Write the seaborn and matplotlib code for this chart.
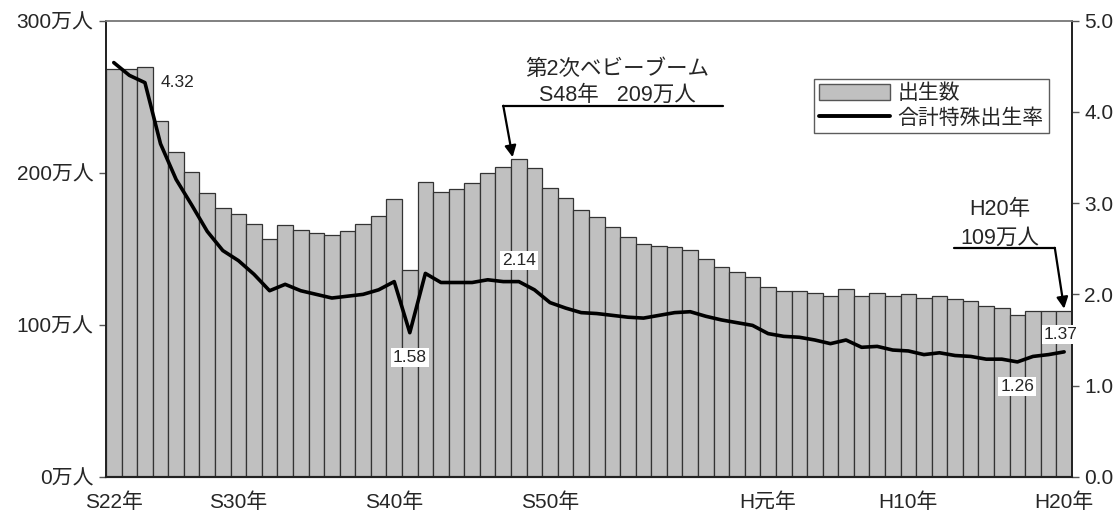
import numpy as np
import pandas as pd
import matplotlib
matplotlib.use("Agg")
import matplotlib.pyplot as plt
import seaborn as sns
from matplotlib.patches import Patch
from matplotlib.lines import Line2D

# Years S22 (1947) .. H20 (2008)
years = list(range(1947, 2009))

# Live births, in units of 10,000 persons (万人)
births = [267.9, 268.2, 269.7, 233.8, 213.8, 200.5, 186.8, 177.0, 173.1, 166.5,
          156.7, 165.3, 162.6, 160.6, 158.9, 161.9, 166.0, 171.7, 182.4, 136.1,
          193.6, 187.2, 189.0, 193.4, 200.1, 203.9, 209.2, 203.0, 190.1, 183.3,
          175.5, 170.9, 164.3, 157.7, 152.9, 151.5, 150.9, 149.0, 143.2, 138.3,
          134.7, 131.4, 124.7, 122.2, 122.3, 120.9, 118.8, 123.8, 118.7, 120.7,
          119.2, 120.3, 117.8, 119.1, 117.1, 115.4, 112.4, 111.1, 106.3, 109.3,
          109.0, 109.1]

# Total fertility rate
tfr = [4.54, 4.40, 4.32, 3.65, 3.26, 2.98, 2.69, 2.48, 2.37, 2.22,
       2.04, 2.11, 2.04, 2.00, 1.96, 1.98, 2.00, 2.05, 2.14, 1.58,
       2.23, 2.13, 2.13, 2.13, 2.16, 2.14, 2.14, 2.05, 1.91, 1.85,
       1.80, 1.79, 1.77, 1.75, 1.74, 1.77, 1.80, 1.81, 1.76, 1.72,
       1.69, 1.66, 1.57, 1.54, 1.53, 1.50, 1.46, 1.50, 1.42, 1.43,
       1.39, 1.38, 1.34, 1.36, 1.33, 1.32, 1.29, 1.29, 1.26, 1.32,
       1.34, 1.37]

tick_years = [1947, 1955, 1965, 1975, 1989, 1998, 2008]
tick_labels = ["S22年", "S30年", "S40年", "S50年", "H元年", "H10年", "H20年"]

left_ticks = [0, 100, 200, 300]
left_labels = ["0万人", "100万人", "200万人", "300万人"]
right_ticks = [0.0, 1.0, 2.0, 3.0, 4.0, 5.0]

# TFR values called out on the line
tfr_callouts = {1949: "4.32", 1966: "1.58", 1973: "2.14", 2005: "1.26", 2008: "1.37"}

sns.set_theme(style="white")
plt.rcParams["font.family"] = ["Liberation Sans", "Noto Sans CJK JP", "DejaVu Sans"]

df = pd.DataFrame({"year": years, "births": births, "tfr": tfr})
df["pos"] = np.arange(len(df))
pos_of = dict(zip(df["year"], df["pos"]))

fig = plt.figure(figsize=(11.18, 5.15), dpi=100)
ax = fig.add_axes([0.0948, 0.074, 0.864, 0.886])

sns.barplot(data=df, x="year", y="births", order=years, color="#C0C0C0",
            width=1.0, edgecolor="#333333", linewidth=0.9, saturation=1,
            ax=ax)
for p in ax.patches:
    p.set_facecolor("#C0C0C0")

TICK_FS = 15
ax.set_xlim(-0.5, len(years) - 0.5)
ax.set_ylim(0, 300)
ax.set_yticks(left_ticks)
ax.set_yticklabels(left_labels, fontsize=TICK_FS)
ax.set_xticks([pos_of[y] for y in tick_years])
ax.set_xticklabels(tick_labels, fontsize=TICK_FS)
ax.set_xlabel("")
ax.set_ylabel("")
ax.tick_params(axis="x", length=0, pad=11)
ax.tick_params(axis="y", length=5, width=1, color="#555555", direction="out", left=True, pad=4)

ax2 = ax.twinx()
sns.lineplot(data=df, x="pos", y="tfr", color="black", linewidth=2.6, ax=ax2,
             legend=False)
ax2.set_ylim(0, 5.0)
ax2.set_yticks(right_ticks)
ax2.set_yticklabels([f"{v:.1f}" for v in right_ticks], fontsize=TICK_FS)
ax2.set_ylabel("")
ax2.tick_params(axis="y", length=5, width=1, color="#555555", direction="out", right=True, pad=4)
ax2.set_xlim(-0.5, len(years) - 0.5)

for a in (ax, ax2):
    a.spines["top"].set_color("#808080")
    a.spines["top"].set_linewidth(1.2)
    a.spines["left"].set_color("#222222")
    a.spines["right"].set_color("#222222")
    a.spines["bottom"].set_color("#222222")
    a.spines["bottom"].set_linewidth(1.5)

# value callouts on the TFR line
offsets = {1949: (2.1, 0.0), 1966: (0.0, -0.27), 1973: (0.0, 0.23),
           2005: (0.0, -0.27), 2008: (-0.2, 0.19)}
for yr, txt in tfr_callouts.items():
    dx, dy = offsets[yr]
    val = df.loc[df["year"] == yr, "tfr"].iloc[0]
    ax2.text(pos_of[yr] + dx, val + dy, txt, ha="center", va="center",
             fontsize=12.5,
             bbox=dict(boxstyle="square,pad=0.12", facecolor="white", edgecolor="none"))

ANN_FS = 15.5
# second baby boom annotation
peak_year = 1973
peak = df.loc[df["year"] == peak_year, "births"].iloc[0]
ax.text(pos_of[peak_year] + 6.3, 268, "第2次ベビーブーム", ha="center", va="center",
        fontsize=ANN_FS)
ax.text(pos_of[peak_year] + 6.3, 251, f"S48年   {peak:.0f}万人", ha="center",
        va="center", fontsize=ANN_FS)
ax.plot([pos_of[peak_year] - 1.0, pos_of[peak_year] + 13.1], [244, 244],
        color="black", linewidth=1.6)
ax.annotate("", xy=(pos_of[peak_year] - 0.4, peak + 1),
            xytext=(pos_of[peak_year] - 1.0, 244),
            arrowprops=dict(arrowstyle="-|>", color="black", lw=1.6,
                            mutation_scale=17, shrinkA=0, shrinkB=0))

# latest year annotation
last_year = 2008
last = df.loc[df["year"] == last_year, "births"].iloc[0]
ax.text(pos_of[last_year] - 4.1, 176, "H20年", ha="center", va="center", fontsize=ANN_FS)
ax.text(pos_of[last_year] - 4.1, 157, f"{last:.0f}万人", ha="center", va="center",
        fontsize=ANN_FS)
ax.plot([pos_of[last_year] - 7.1, pos_of[last_year] - 0.6], [150.6, 150.6],
        color="black", linewidth=1.6)
ax.annotate("", xy=(pos_of[last_year], last + 1.5),
            xytext=(pos_of[last_year] - 0.6, 150.6),
            arrowprops=dict(arrowstyle="-|>", color="black", lw=1.6,
                            mutation_scale=17, shrinkA=0, shrinkB=0))

# legend
handles = [Patch(facecolor="#C0C0C0", edgecolor="#555555", label="出生数"),
           Line2D([0], [0], color="black", linewidth=2.8, label="合計特殊出生率")]
leg = ax2.legend(handles=handles, loc="upper right", bbox_to_anchor=(0.976, 0.873),
                 fontsize=15, frameon=True, fancybox=False, handlelength=3.4,
                 handleheight=0.8, handletextpad=0.35, borderpad=0.25,
                 labelspacing=0.25, borderaxespad=0)
leg.get_frame().set_edgecolor("#333333")
leg.get_frame().set_linewidth(1.0)

fig.savefig("out.png", dpi=100)
